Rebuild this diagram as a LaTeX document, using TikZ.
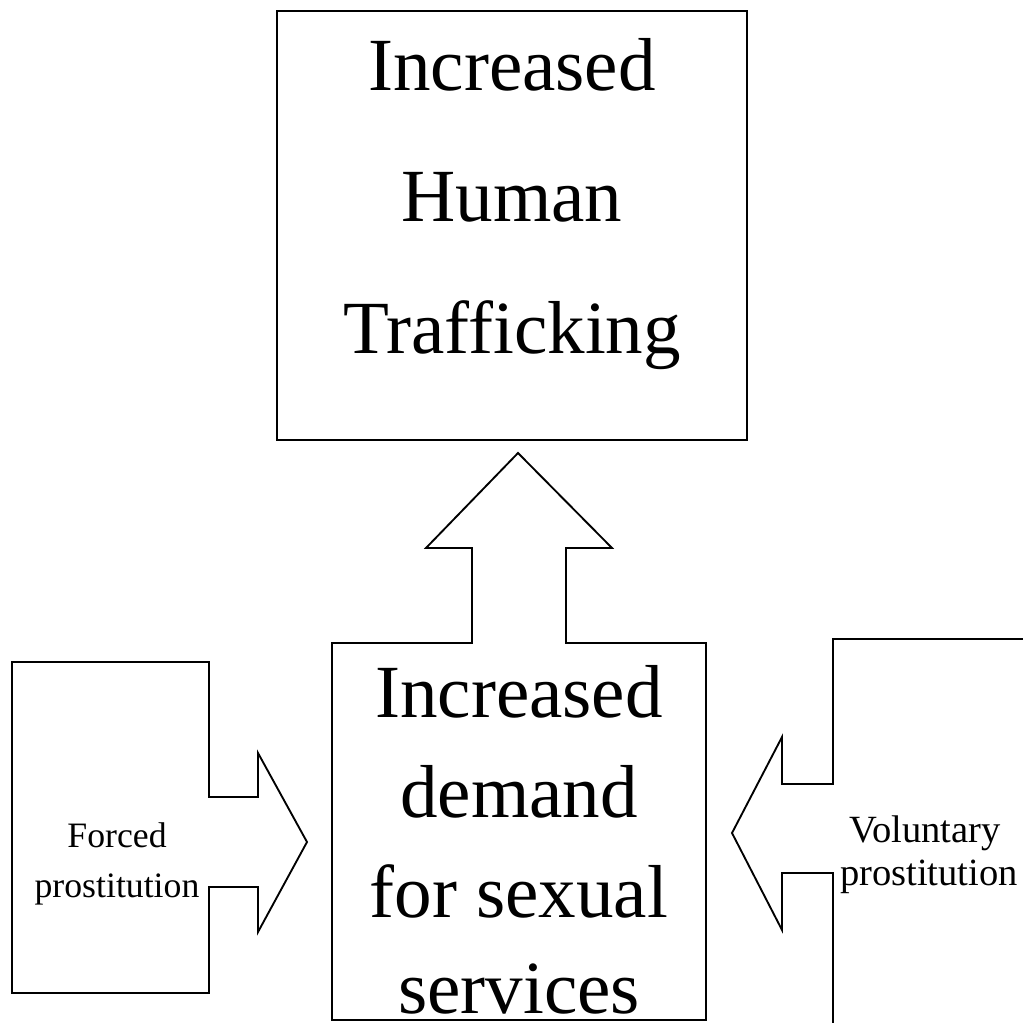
\documentclass[tikz,border=0pt]{standalone}
\usepackage{fontspec}
\setmainfont{Liberation Serif}
\tikzset{
  outline/.style={draw=black, line width=1.4pt, line join=miter},
  bigtxt/.style={anchor=base, inner sep=0pt, font=\fontsize{56.3}{60}\selectfont},
  lefttxt/.style={anchor=base, inner sep=0pt, font=\fontsize{26.8}{30}\selectfont},
  righttxt/.style={anchor=base, inner sep=0pt, font=\fontsize{28.9}{32}\selectfont}
}
\begin{document}
\begin{tikzpicture}[x=0.75pt, y=-0.75pt]
\useasboundingbox[fill=white] (0,0) rectangle (1023,1023);
% top box
\draw[outline] (277,11) rectangle (747,440);
\node[bigtxt] (t1) at (512,91) {Increased};
\node[bigtxt] (t2) at (512,222) {Human};
\node[bigtxt] (t3) at (512,353) {Trafficking};
% middle box with up arrow
\draw[outline] (332,643) -- (472,643) -- (472,548) -- (426,548) -- (518,453)
  -- (612,548) -- (566,548) -- (566,643) -- (706,643) -- (706,1020)
  -- (332,1020) -- cycle;
\node[bigtxt] (m1) at (519,717) {Increased};
\node[bigtxt] (m2) at (519,817) {demand};
\node[bigtxt] (m3) at (519,917) {for sexual};
\node[bigtxt] (m4) at (519,1013) {services};
% left box with right arrow
\draw[outline] (12,662) -- (209,662) -- (209,797) -- (258,797) -- (258,753)
  -- (307,842) -- (258,932) -- (258,887) -- (209,887) -- (209,993)
  -- (12,993) -- cycle;
\node[lefttxt] (l1) at (117,847) {Forced};
\node[lefttxt] (l2) at (117,897) {prostitution};
% right box with left arrow (cut off at the page edge)
\draw[outline] (1025,639) -- (833,639) -- (833,784) -- (782,784) -- (782,737)
  -- (732,833) -- (782,930) -- (782,873) -- (833,873) -- (833,1025);
\node[righttxt] (r1) at (925,842) {Voluntary};
\node[righttxt] (r2) at (929,885) {prostitution};
\end{tikzpicture}
\end{document}
